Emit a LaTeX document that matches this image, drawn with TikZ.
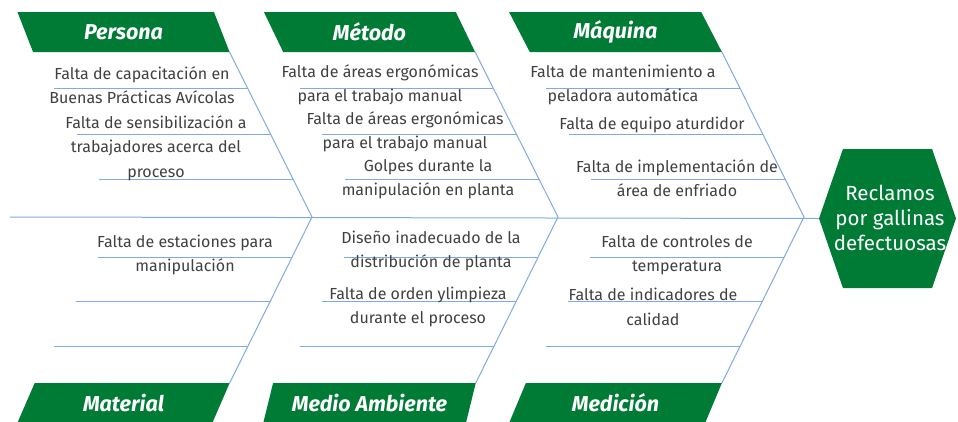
\documentclass[tikz,border=0pt]{standalone}
\usepackage{fontspec}
\setmainfont{Fira Sans}
\usetikzlibrary{shapes.geometric,shapes.symbols,calc}
\definecolor{bandgreen}{HTML}{007B36}
\definecolor{boneblue}{HTML}{7FAAE3}
\definecolor{causegray}{HTML}{404040}

\begin{document}
\begin{tikzpicture}[
    x=1pt, y=-1pt,
    header/.style={trapezium, trapezium stretches=true, fill=bandgreen, text=white, minimum width=213pt, minimum height=40pt, inner sep=0pt, outer sep=0pt, font=\fontsize{21.5}{22}\selectfont\bfseries\itshape},
    upper/.style={header, trapezium left angle=114, trapezium right angle=66},
    lower/.style={header, trapezium left angle=66, trapezium right angle=114},
    bone/.style={boneblue, line width=1pt},
    cause/.style={align=center, text=causegray, inner sep=0pt, font=\fontsize{16}{24.5}\selectfont},
    goal/.style={signal, signal to=west and east, signal pointer angle=142, fill=bandgreen, minimum width=137pt, minimum height=139pt, inner sep=0pt, outer sep=0pt},
    goaltext/.style={align=center, text=white, inner sep=0pt, font=\fontsize{20.5}{25}\selectfont}
]
\useasboundingbox (0,0) rectangle (958,421);

% === HEADERS ===
\node[upper] (up1) at (123.5, 32) {Persona};
\node[upper] (up2) at (369.5, 32) {Método};
\node[upper] (up3) at (615.5, 32) {Máquina};
\node[lower] (down1) at (123.5, 403) {Material};
\node[lower] (down2) at (369.5, 403) {Medio Ambiente};
\node[lower] (down3) at (615.5, 403) {Medición};

% === EFFECT ===
\node[goal] (effect) at (887.5, 218.5) {};
\node[goaltext] (effecttext) at (890, 218) {Reclamos\\por gallinas\\defectuosas};

% Spine and chevrons
\coordinate (tail) at (10, 217);
\coordinate (tip1) at (312, 217);
\coordinate (tip2) at (558, 217);
\coordinate (tip3) at (804, 217);
\draw[bone] (tail) -- (effect.west);
\foreach \i in {1,2,3} {
    \draw[bone] (up\i.bottom right corner) -- (tip\i) -- (down\i.top right corner);
    \foreach \t in {0.224, 0.497, 0.770}
        \draw[bone] ($(up\i.bottom right corner)!\t!(tip\i)$) -- ++(-194, 0);
    \foreach \t in {0.217, 0.488, 0.759}
        \draw[bone] ($(down\i.top right corner)!\t!(tip\i)$) -- ++(-194, 0);
}

% === CAUSES ===
\node[cause] (c1a) at (142, 85) {Falta de capacitación en\\Buenas Prácticas Avícolas};
\node[cause] (c1b) at (156, 148) {Falta de sensibilización a\\trabajadores acerca del\\proceso};
\node[cause] (c1c) at (185, 255) {Falta de estaciones para\\manipulación};

\node[cause] (c2a) at (380, 85) {Falta de áreas ergonómicas\\para el trabajo manual};
\node[cause] (c2b) at (405, 132) {Falta de áreas ergonómicas\\para el trabajo manual};
\node[cause] (c2c) at (428, 179) {Golpes durante la\\manipulación en planta};
\node[cause] (c2d) at (431, 251) {Diseño inadecuado de la\\distribución de planta};
\node[cause] (c2e) at (418, 307) {Falta de orden ylimpieza\\durante el proceso};

\node[cause] (c3a) at (623, 85) {Falta de mantenimiento a\\peladora automática};
\node[cause] (c3b) at (652, 125) {Falta de equipo aturdidor};
\node[cause] (c3c) at (677, 178) {Falta de implementación de\\área de enfriado};
\node[cause] (c3d) at (677, 255) {Falta de controles de\\temperatura};
\node[cause] (c3e) at (653, 307) {Falta de indicadores de\\calidad};

\end{tikzpicture}
\end{document}
